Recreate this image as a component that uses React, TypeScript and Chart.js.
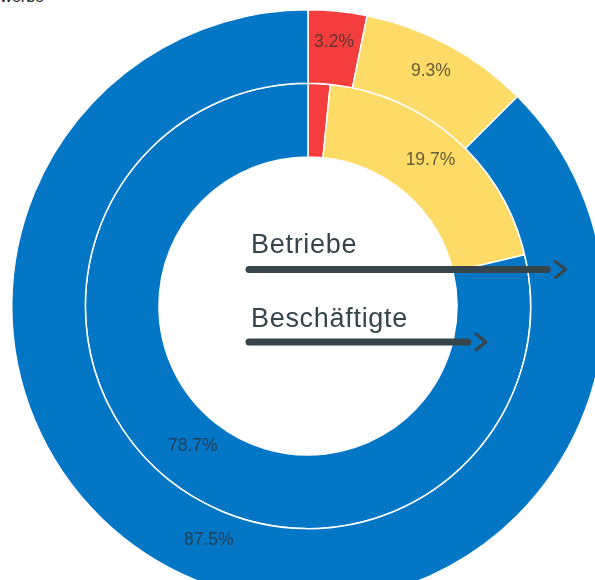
import React, { useEffect, useRef } from "react";
import { Chart, registerables } from "chart.js";

Chart.register(...registerables);

const categories = ["Kategorie A", "Kategorie B", "Kategorie C"];
const seriesNames = ["Betriebe", "Beschäftigte"];
const betriebeValues = [3.2, 9.3, 87.5];
const beschaeftigteValues = [1.6, 19.7, 78.7];
const betriebeLabels = ["3.2%", "9.3%", "87.5%"];
const beschaeftigteLabels = ["", "19.7%", "78.7%"];
const sliceColors = ["#f43e3e", "#fddb66", "#0476c6"];
const titleText = "Gewerbe";

const FONT = '"Liberation Sans", Arial, Helvetica, sans-serif';

const overlayPlugin = {
  id: "overlay",
  afterDatasetsDraw(chart: any) {
    const ctx = chart.ctx as CanvasRenderingContext2D;
    const labelSets = [betriebeLabels, beschaeftigteLabels];
    ctx.save();
    // percentage labels
    chart.data.datasets.forEach((_: any, di: number) => {
      const meta = chart.getDatasetMeta(di);
      meta.data.forEach((arc: any, i: number) => {
        const txt = labelSets[di][i];
        if (!txt) return;
        const p = arc.getCenterPoint();
        ctx.font = `17.5px ${FONT}`;
        ctx.fillStyle = "rgba(45,45,45,0.74)";
        ctx.textAlign = "center";
        ctx.textBaseline = "middle";
        ctx.fillText(txt, p.x, p.y - 6);
      });
    });
    // arrows with series names
    const outer = chart.getDatasetMeta(0).data[0];
    const inner = chart.getDatasetMeta(1).data[0];
    const cx = outer.x;
    const cy = outer.y;
    const rings = [
      { arc: outer, name: seriesNames[0], lineY: cy - 36.5, baseY: cy - 53, tipShift: -2 },
      { arc: inner, name: seriesNames[1], lineY: cy + 36, baseY: cy + 21, tipShift: -8 },
    ];
    rings.forEach((r) => {
      const mid = (r.arc.innerRadius + r.arc.outerRadius) / 2;
      const tip = cx + mid + r.tipShift;
      const color = "#36454c";
      ctx.font = `27px ${FONT}`;
      (ctx as any).letterSpacing = "0.7px";
      ctx.fillStyle = color;
      ctx.textAlign = "left";
      ctx.textBaseline = "alphabetic";
      ctx.fillText(r.name, cx - 57, r.baseY);
      (ctx as any).letterSpacing = "0px";
      ctx.strokeStyle = color;
      ctx.lineCap = "round";
      ctx.lineJoin = "round";
      ctx.lineWidth = 7;
      ctx.beginPath();
      ctx.moveTo(cx - 59, r.lineY);
      ctx.lineTo(tip - 18, r.lineY);
      ctx.stroke();
      ctx.lineWidth = 3;
      ctx.beginPath();
      ctx.moveTo(tip - 10, r.lineY - 8);
      ctx.lineTo(tip, r.lineY);
      ctx.lineTo(tip - 10, r.lineY + 8);
      ctx.stroke();
    });
    ctx.restore();
  },
};

export default function App() {
  const canvasRef = useRef<HTMLCanvasElement | null>(null);

  useEffect(() => {
    if (!canvasRef.current) return;
    const chart = new Chart(canvasRef.current, {
      type: "doughnut",
      data: {
        labels: categories,
        datasets: [
          {
            label: seriesNames[0],
            data: betriebeValues,
            backgroundColor: sliceColors,
            borderColor: "#ffffff",
            borderWidth: 1.5,
          },
          {
            label: seriesNames[1],
            data: beschaeftigteValues,
            backgroundColor: sliceColors,
            borderColor: "#ffffff",
            borderWidth: 1.5,
          },
        ],
      },
      options: {
        responsive: false,
        animation: false,
        cutout: "50.3%",
        devicePixelRatio: 1,
        plugins: {
          legend: { display: false },
          tooltip: { enabled: false },
        },
        events: [],
      },
      plugins: [overlayPlugin],
    });
    return () => chart.destroy();
  }, []);

  return (
    <div
      style={{
        position: "absolute",
        left: 0,
        top: 0,
        width: 595,
        height: 580,
        overflow: "hidden",
        background: "#ffffff",
      }}
    >
      <div
        style={{
          position: "absolute",
          left: -21,
          top: -11,
          fontFamily: FONT,
          fontSize: 16,
          lineHeight: "16px",
          color: "#222",
          whiteSpace: "nowrap",
        }}
      >
        {titleText}
      </div>
      <canvas
        ref={canvasRef}
        width={616}
        height={594}
        style={{ position: "absolute", left: 0, top: 9, width: 616, height: 594 }}
      />
    </div>
  );
}
